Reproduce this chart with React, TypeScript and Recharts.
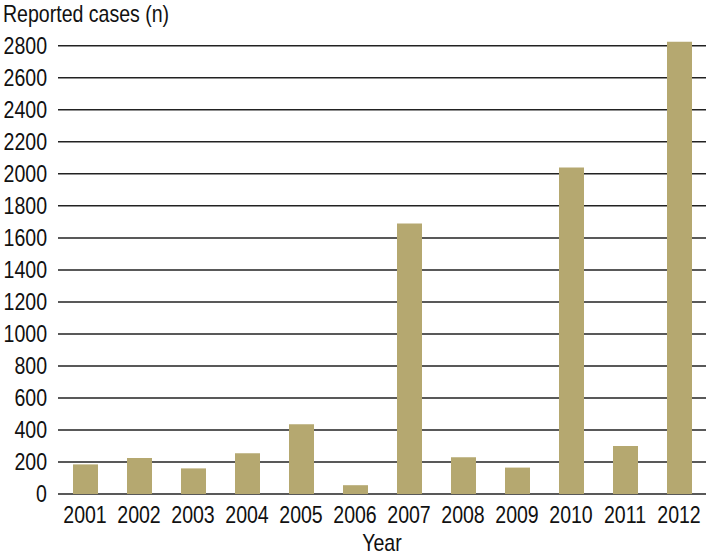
import React from 'react';
import { BarChart, Bar, XAxis, YAxis, CartesianGrid } from 'recharts';

const years = ['2001', '2002', '2003', '2004', '2005', '2006', '2007', '2008', '2009', '2010', '2011', '2012'];
const cases = [185, 225, 160, 255, 435, 55, 1690, 230, 165, 2040, 300, 2825];
const yTicks = [0, 200, 400, 600, 800, 1000, 1200, 1400, 1600, 1800, 2000, 2200, 2400, 2600, 2800];

const data = years.map((year, i) => ({ year, cases: cases[i] }));

// the original uses a condensed sans; squeeze Arial-metric text horizontally
const font = '"Liberation Sans", Arial, sans-serif';
const fontSize = 23;
const squeeze = 0.85;

const Squeezed = ({ x, y, anchor, children }: any) => (
  <g transform={`translate(${x},${y}) scale(${squeeze},1)`}>
    <text x={0} y={0} textAnchor={anchor} fill="#111" fontSize={fontSize} fontFamily={font}>
      {children}
    </text>
  </g>
);

const YTick = ({ x, y, payload }: any) => (
  <Squeezed x={x} y={y + 8} anchor="end">{payload.value}</Squeezed>
);

const XTick = ({ x, y, payload }: any) => (
  <Squeezed x={x} y={y + 16} anchor="middle">{payload.value}</Squeezed>
);

const YTitle = () => <Squeezed x={3} y={22} anchor="start">Reported cases (n)</Squeezed>;

const XTitle = ({ viewBox }: any) => (
  <Squeezed x={viewBox.x + viewBox.width / 2} y={viewBox.y + 57} anchor="middle">Year</Squeezed>
);

export default function App() {
  return (
    <div style={{ position: 'absolute', left: 0, top: 0, width: 708, height: 559, background: '#fff' }}>
      <BarChart
        width={708}
        height={559}
        data={data}
        margin={{ top: 41, right: 2, left: 0, bottom: 25 }}
        barSize={25}
      >
        <CartesianGrid vertical={false} stroke="#222" strokeWidth={1.5} syncWithTicks />
        <XAxis
          dataKey="year"
          axisLine={false}
          tickLine={false}
          tick={<XTick />}
          tickMargin={7}
          height={40}
          label={<XTitle />}
        />
        <YAxis
          domain={[0, 2830]}
          ticks={yTicks}
          interval={0}
          axisLine={false}
          tickLine={false}
          tick={<YTick />}
          tickMargin={5}
          width={58}
          label={<YTitle />}
        />
        <Bar dataKey="cases" fill="#b5a870" isAnimationActive={false} />
      </BarChart>
    </div>
  );
}
